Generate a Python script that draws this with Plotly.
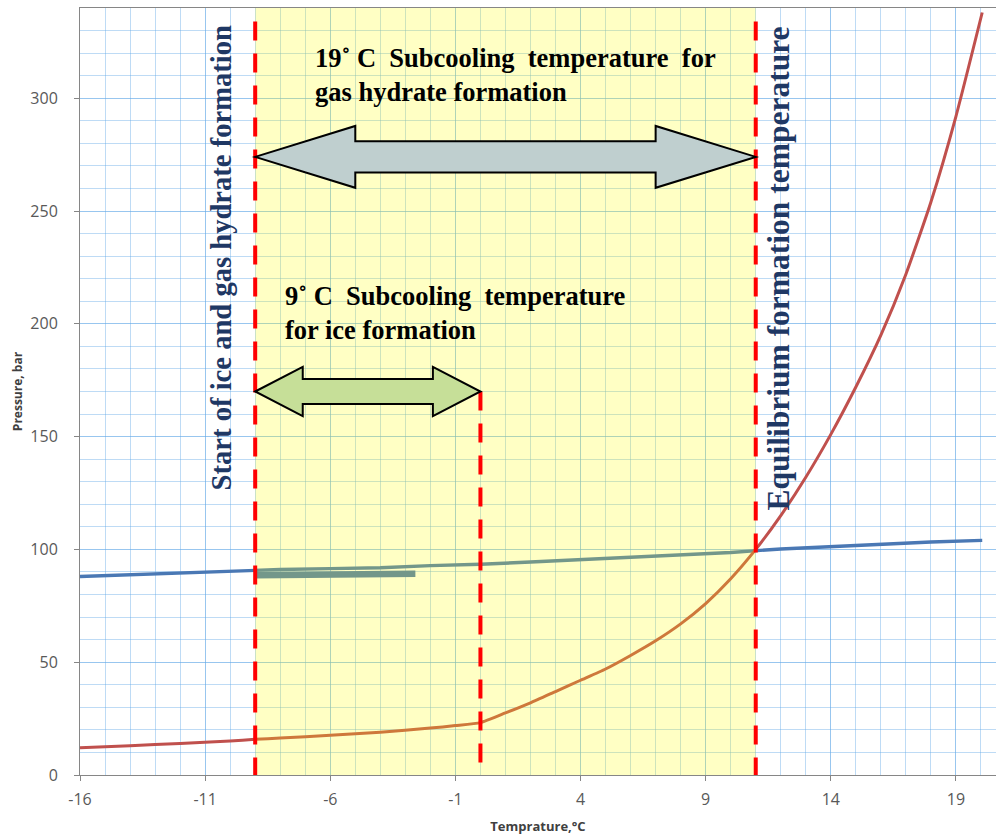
import plotly.graph_objects as go

# Hydrate equilibrium curve (pressure vs temperature)
hyd_t = [-16, -14, -12, -10, -9, -8, -6, -4, -2, -1, 0, 1, 2, 3, 4, 5, 6, 7, 8, 9,
         10, 11, 12, 13, 14, 15, 16, 17, 18, 19, 20.05]
hyd_p = [12.1, 13.0, 14.0, 15.1, 15.8, 16.4, 17.6, 19.0, 20.8, 21.9, 23.2, 27.5, 32, 37, 42,
         47, 53, 59.5, 67, 76, 87, 100, 115, 132, 151, 172, 195, 222, 254, 292, 338]

# Operating pressure line
op_t = [-16, -14, -12, -10, -8, -6, -4, -2, 0, 2, 4, 6, 8, 10, 12, 14, 16, 18, 20.05]
op_p = [88.0, 88.8, 89.6, 90.4, 91.1, 91.5, 91.9, 92.8, 93.4, 94.4, 95.4, 96.4, 97.4,
        98.6, 100.2, 101.3, 102.3, 103.3, 104.0]

# Short lower branch of the pressure line inside the subcooling zone
branch_t = [-9, -7, -5, -3, -2.6]
branch_p = [88.5, 88.6, 88.7, 88.9, 89.2]

# Key temperatures
t_start = -9.0      # start of ice and gas hydrate formation
t_ice = 0.0         # end of ice subcooling span
t_equil = 11.0      # equilibrium formation temperature

# Double arrows: (x from, x to, y level, head length, head half-height, shaft half-height)
big_arrow = (t_start, t_equil, 274.0, 4.0, 13.7, 6.9)
ice_arrow = (t_start, t_ice, 170.0, 1.9, 10.9, 5.5)

x_ticks = [-16, -11, -6, -1, 4, 9, 14, 19]
y_ticks = [0, 50, 100, 150, 200, 250, 300]

RED = "#c0504d"
BLUE = "#4a78b4"
NAVY = "#1f3864"


def double_arrow(a):
    x0, x1, yc, hl, hh, sh = a
    pts = [(x0, yc), (x0 + hl, yc + hh), (x0 + hl, yc + sh), (x1 - hl, yc + sh),
           (x1 - hl, yc + hh), (x1, yc), (x1 - hl, yc - hh), (x1 - hl, yc - sh),
           (x0 + hl, yc - sh), (x0 + hl, yc - hh)]
    return "M " + " L ".join(f"{x},{y}" for x, y in pts) + " Z"


fig = go.Figure()
fig.add_trace(go.Scatter(x=op_t, y=op_p, mode="lines",
                         line=dict(color=BLUE, width=3.4), hoverinfo="skip"))
fig.add_trace(go.Scatter(x=branch_t, y=branch_p, mode="lines",
                         line=dict(color=BLUE, width=6.5), hoverinfo="skip"))
fig.add_trace(go.Scatter(x=hyd_t, y=hyd_p, mode="lines",
                         line=dict(color=RED, width=3, shape="spline", smoothing=0.5),
                         hoverinfo="skip"))

dash = "19px,13px"
shapes = [
    # translucent subcooling band
    dict(type="rect", xref="x", yref="y", x0=t_start, x1=t_equil, y0=0, y1=340,
         fillcolor="rgba(255,255,0,0.23)", line=dict(width=0), layer="above"),
    # boundary markers
    dict(type="line", xref="x", yref="y", x0=t_start, x1=t_start, y0=334, y1=0,
         line=dict(color="#ff0000", width=4, dash=dash), layer="above"),
    dict(type="line", xref="x", yref="y", x0=t_equil, x1=t_equil, y0=334, y1=0,
         line=dict(color="#ff0000", width=4, dash=dash), layer="above"),
    dict(type="line", xref="x", yref="y", x0=t_ice, x1=t_ice, y0=ice_arrow[2], y1=0,
         line=dict(color="#ff0000", width=4, dash=dash), layer="above"),
    # span arrows
    dict(type="path", xref="x", yref="y", path=double_arrow(big_arrow),
         fillcolor="#bfcfcf", line=dict(color="#000000", width=2), layer="above"),
    dict(type="path", xref="x", yref="y", path=double_arrow(ice_arrow),
         fillcolor="#c6df98", line=dict(color="#000000", width=2), layer="above"),
]

serif = "Liberation Serif"
annotations = [
    dict(x=-6.69, y=310.4, xref="x", yref="y", xanchor="left", yanchor="middle",
         align="left", showarrow=False,
         text="<b>19˚ C  Subcooling  temperature  for<br>gas hydrate formation</b>",
         font=dict(family=serif, size=26.5, color="#000000")),
    dict(x=-7.89, y=204.9, xref="x", yref="y", xanchor="left", yanchor="middle",
         align="left", showarrow=False,
         text="<b>9˚ C  Subcooling  temperature<br>for ice formation</b>",
         font=dict(family=serif, size=26.5, color="#000000")),
    dict(x=-10.33, y=229.4, xref="x", yref="y", xanchor="center", yanchor="middle",
         textangle=-90, showarrow=False,
         text="<b>Start of ice and gas hydrate formation</b>",
         font=dict(family=serif, size=28.6, color=NAVY)),
    dict(x=11.93, y=224.5, xref="x", yref="y", xanchor="center", yanchor="middle",
         textangle=-90, showarrow=False,
         text="<b>Equilibrium formation temperature</b>",
         font=dict(family=serif, size=31.5, color=NAVY)),
]

grid = "rgba(100,170,230,0.42)"
tickfont = dict(family="Open Sans", size=16, color="#595959")

fig.update_layout(
    width=996, height=840,
    margin=dict(l=80, r=0, t=8, b=65),
    paper_bgcolor="white", plot_bgcolor="white",
    showlegend=False,
    shapes=shapes, annotations=annotations,
    xaxis=dict(range=[-16, 20.6], tickmode="array", tickvals=x_ticks,
               ticktext=[str(v) for v in x_ticks],
               showgrid=True, gridcolor=grid, gridwidth=1,
               minor=dict(dtick=1, tick0=-16, showgrid=True, gridcolor=grid, gridwidth=1),
               showline=True, linecolor="#868686", linewidth=1, mirror=True,
               ticks="outside", ticklen=5, tickcolor="#868686",
               tickfont=tickfont, zeroline=False, ticklabelstandoff=5,
               title=dict(text="<b>Temprature,°C</b>", standoff=12,
                          font=dict(family="Open Sans", size=13, color="#404040"))),
    yaxis=dict(range=[0, 340], tickmode="array", tickvals=y_ticks,
               ticktext=[str(v) for v in y_ticks],
               showgrid=True, gridcolor=grid, gridwidth=1,
               minor=dict(dtick=10, tick0=0, showgrid=True, gridcolor=grid, gridwidth=1),
               showline=True, linecolor="#868686", linewidth=1,
               ticks="outside", ticklen=5, tickcolor="#868686",
               tickfont=tickfont, zeroline=False, ticklabelstandoff=13,
               title=dict(text="<b>Pressure, bar</b>", standoff=5,
                          font=dict(family="Open Sans", size=12, color="#404040"))),
)

fig.write_html("out.html")
